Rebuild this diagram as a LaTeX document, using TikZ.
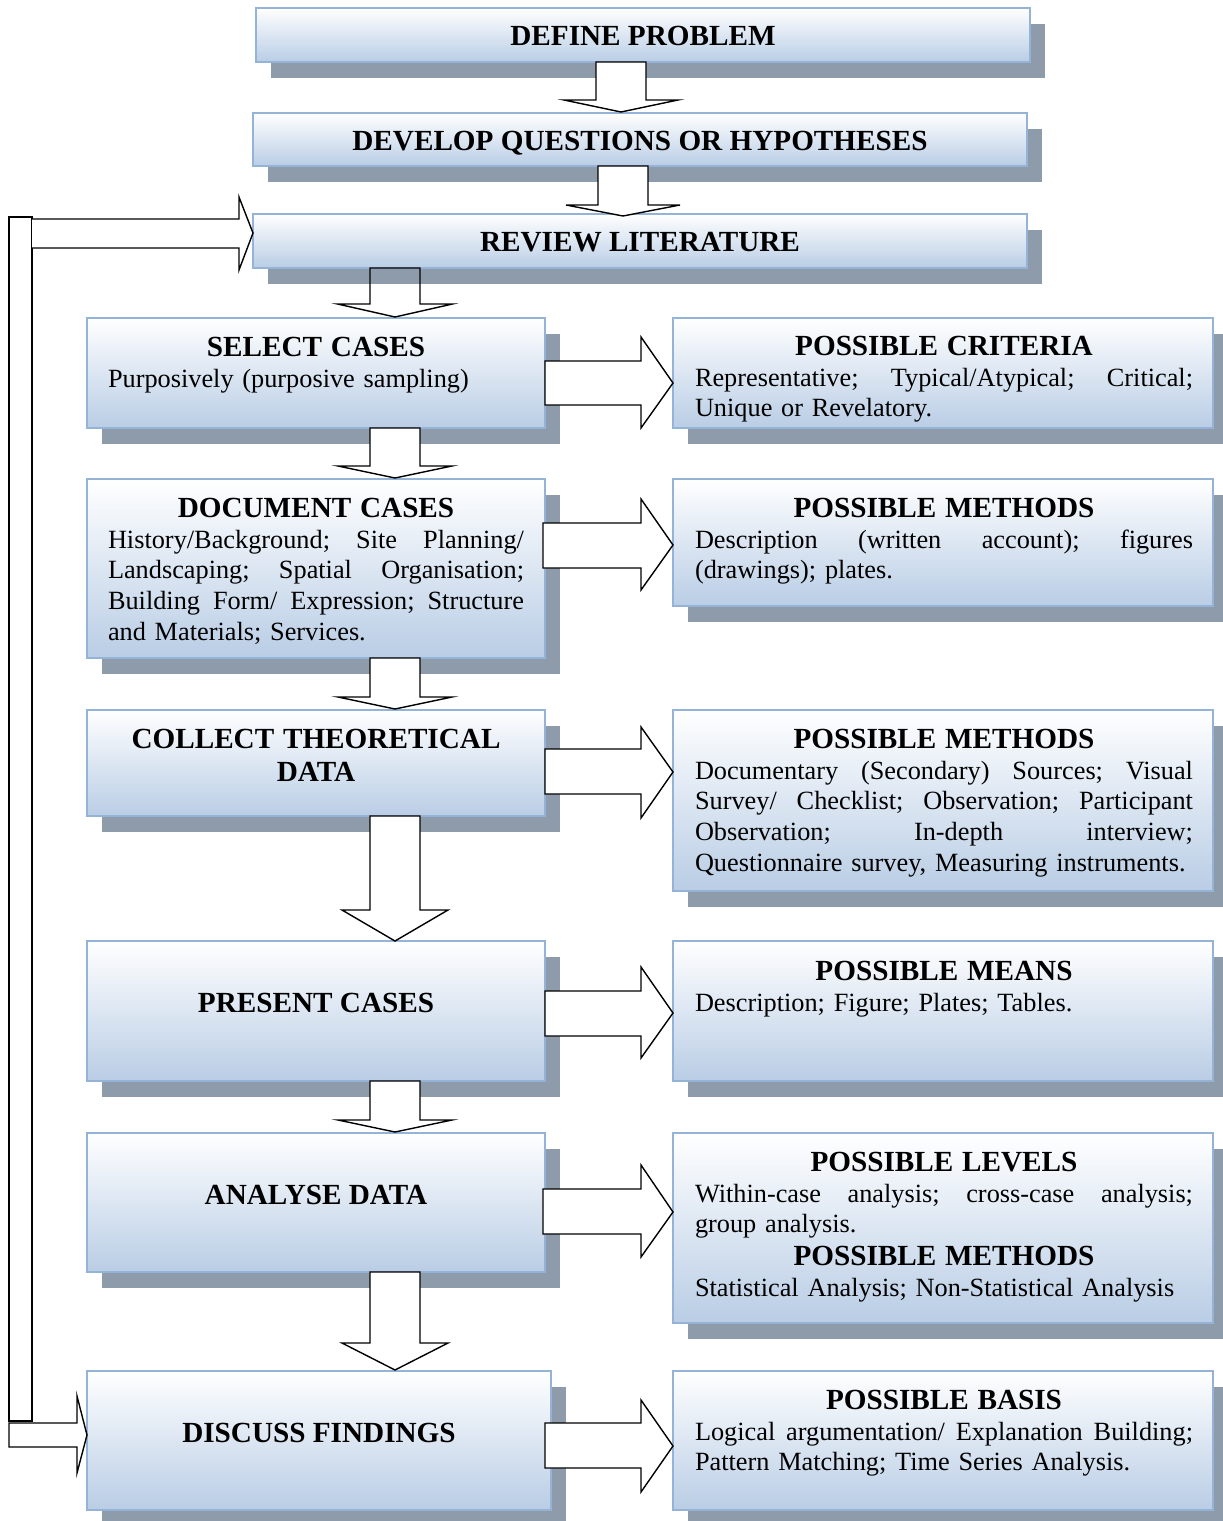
\documentclass[tikz,border=0pt]{standalone}
\usepackage{fontspec}
\setmainfont{Liberation Serif}
\usetikzlibrary{fit}
\definecolor{boxborder}{RGB}{149,179,215}
\definecolor{boxblue}{RGB}{185,205,229}
\definecolor{shadowgray}{RGB}{142,155,170}
\setlength{\parindent}{0pt}
% shadow + gradient box: name, x1, y1, x2, y2 (pixel units)
\newcommand\shadedbox[5]{%
  \fill[shadowgray] ({#2+15},{#3+16}) rectangle ({#4+15},{#5+16});
  \node[mainbox, fit={(#2,#3) (#4,#5)}] (#1) {};}
% down block arrow: xc, top, headY, tip, halfshaft, halfhead, extra style
\newcommand\dnarrow[7]{%
  \draw[blockarrow,#7] ({#1-#5},#2) -- ({#1-#5},#3) -- ({#1-#6},#3) -- (#1,#4)
    -- ({#1+#6},#3) -- ({#1+#5},#3) -- ({#1+#5},#2) -- cycle;}
% right block arrow: xleft, shafttop, shaftbot, headtop, headbot, tipy
\newcommand\rtarrow[6]{%
  \draw[blockarrow] (#1,#2) -- (641,#2) -- (641,#4) -- (673,#6) -- (641,#5)
    -- (641,#3) -- (#1,#3) -- cycle;}
% justified lines (words separated by \hfill): right column (249pt) and left column (208pt)
\newcommand\jr[1]{\leavevmode\hbox to 249pt{#1}\par}
\newcommand\jlf[1]{\leavevmode\hbox to 208pt{#1}\par}
\newcommand\hd[1]{{\fontsize{14.6pt}{16.5pt}\selectfont\bfseries\centering #1\par}}
\begin{document}
\begin{tikzpicture}[x=0.5pt,y=-0.5pt,
  mainbox/.style={draw=boxborder, line width=1pt, top color=white, bottom color=boxblue, inner sep=0pt},
  blockarrow/.style={draw=black, fill=white, line width=0.7pt, line join=miter},
  headtxt/.style={font=\fontsize{14.6pt}{16.5pt}\selectfont\bfseries, inner sep=0pt, anchor=base},
  righttxt/.style={anchor=north, text width=249pt, inner sep=0pt, font=\fontsize{13.15pt}{15.4pt}\selectfont},
  lefttxt/.style={anchor=north, text width=208pt, inner sep=0pt, font=\fontsize{13.15pt}{15.4pt}\selectfont}]
\useasboundingbox (0,0) rectangle (1222,1521);

% boxes
\shadedbox{define}{256}{8}{1030}{62}
\shadedbox{develop}{253}{113}{1027}{166}
\shadedbox{review}{253}{214}{1027}{268}
\shadedbox{select}{87}{318}{545}{428}
\shadedbox{criteria}{673}{318}{1213}{428}
\shadedbox{document}{87}{479}{545}{658}
\shadedbox{methodsA}{673}{479}{1213}{606}
\shadedbox{collect}{87}{710}{545}{816}
\shadedbox{methodsB}{673}{710}{1213}{891}
\shadedbox{present}{87}{941}{545}{1081}
\shadedbox{means}{673}{941}{1213}{1081}
\shadedbox{analyse}{87}{1133}{545}{1272}
\shadedbox{levels}{673}{1133}{1213}{1323}
\shadedbox{discuss}{87}{1371}{551}{1510}
\shadedbox{basis}{673}{1371}{1213}{1510}

% down arrows
\dnarrow{621}{62}{100}{112}{25}{57}{}
\dnarrow{623}{166}{205}{216}{25}{57}{}
\dnarrow{395}{268}{304}{317}{25}{57.5}{fill=none}
\dnarrow{395}{428}{466}{478}{25}{57}{}
\dnarrow{395}{658}{697}{709}{25}{57}{}
\dnarrow{395}{816}{910}{941}{25}{53}{}
\dnarrow{395}{1081}{1120}{1132}{25}{57}{}
\dnarrow{395}{1272}{1343}{1370}{25}{53}{}

% right arrows
\rtarrow{545}{361}{405}{337}{428}{383}
\rtarrow{543}{523}{568}{499}{590}{545}
\rtarrow{545}{749}{794}{727}{818}{772}
\rtarrow{545}{991}{1036}{967}{1058}{1013}
\rtarrow{543}{1189}{1234}{1165}{1257}{1212}
\rtarrow{545}{1423}{1468}{1400}{1492}{1446}

% feedback arrow
\draw[blockarrow] (9,217) rectangle (32,1421);
\fill[white] (32,219) -- (239,219) -- (239,197) -- (253,233) -- (239,270) -- (239,248) -- (32,248) -- cycle;
\draw[blockarrow, fill=none] (32,219) -- (239,219) -- (239,197) -- (253,233) -- (239,270) -- (239,248) -- (32,248);
\draw[blockarrow] (9,1423) -- (77,1423) -- (77,1396) -- (87,1435) -- (77,1473) -- (77,1447) -- (9,1447) -- cycle;

% single-line headings
\node[headtxt] (tdefine) at (643,45.5) {DEFINE PROBLEM};
\node[headtxt] (tdevelop) at (640,150.5) {DEVELOP QUESTIONS OR HYPOTHESES};
\node[headtxt] (treview) at (640,251.5) {REVIEW LITERATURE};
\node[headtxt] (tpresent) at (316,1012.5) {PRESENT CASES};
\node[headtxt] (tanalyse) at (316,1204.5) {ANALYSE DATA};
\node[headtxt] (tdiscuss) at (319,1442.5) {DISCUSS FINDINGS};

% left text blocks
\node[lefttxt] (tselect) at (316,336.5) {\hd{SELECT CASES}Purposively (purposive sampling)\par};
\node[lefttxt] (tdocument) at (316,497.5) {\hd{DOCUMENT CASES}%
\jlf{History/Background;\hfill Site\hfill Planning/}%
\jlf{Landscaping;\hfill Spatial\hfill Organisation;}%
\jlf{Building\hfill Form/\hfill Expression;\hfill Structure}%
and Materials; Services.\par};
\node[lefttxt] (tcollect) at (316,728.5) {\hd{COLLECT THEORETICAL\\ DATA}};

% right text blocks
\node[righttxt] (tcriteria) at (944,335.5) {\hd{POSSIBLE CRITERIA}%
\jr{Representative;\hfill Typical/Atypical;\hfill Critical;}%
Unique or Revelatory.\par};
\node[righttxt] (tmethodsA) at (944,497.5) {\hd{POSSIBLE METHODS}%
\jr{Description\hfill (written\hfill account);\hfill figures}%
(drawings); plates.\par};
\node[righttxt] (tmethodsB) at (944,728.5) {\hd{POSSIBLE METHODS}%
\jr{Documentary\hfill (Secondary)\hfill Sources;\hfill Visual}%
\jr{Survey/\hfill Checklist;\hfill Observation;\hfill Participant}%
\jr{Observation;\hfill In-depth\hfill interview;}%
Questionnaire survey, Measuring instruments.\par};
\node[righttxt] (tmeans) at (944,960.5) {\hd{POSSIBLE MEANS}%
Description; Figure; Plates; Tables.\par};
\node[righttxt] (tlevels) at (944,1151.5) {\hd{POSSIBLE LEVELS}%
\jr{Within-case\hfill analysis;\hfill cross-case\hfill analysis;}%
group analysis.\par
\hd{POSSIBLE METHODS}%
Statistical Analysis; Non-Statistical Analysis\par};
\node[righttxt] (tbasis) at (944,1389.5) {\hd{POSSIBLE BASIS}%
\jr{Logical\hfill argumentation/\hfill Explanation\hfill Building;}%
Pattern Matching; Time Series Analysis.\par};
\end{tikzpicture}
\end{document}
